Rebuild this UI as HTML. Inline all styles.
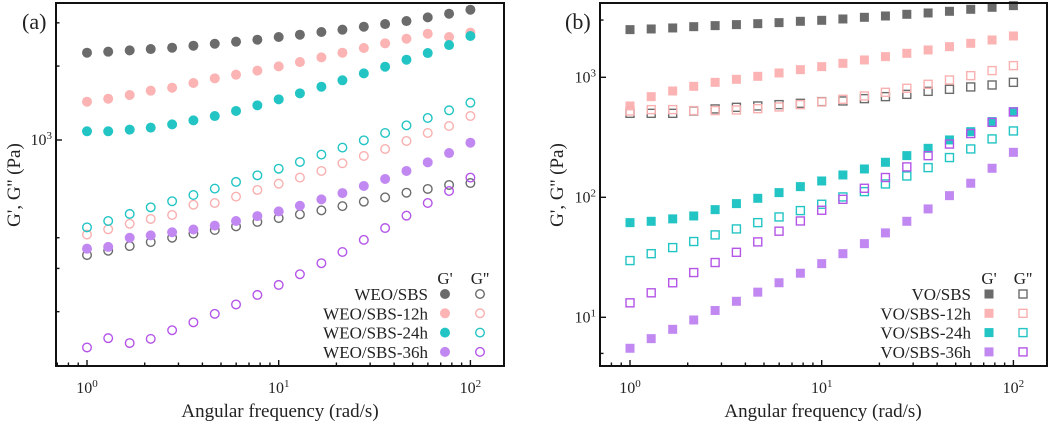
<!DOCTYPE html>
<html><head><meta charset="utf-8">
<style>
html,body{margin:0;padding:0;background:#fff;}
svg{display:block;font-family:"Liberation Serif",serif;}
</style></head>
<body>
<svg id="chart" width="1052" height="422" viewBox="0 0 1052 422" xmlns="http://www.w3.org/2000/svg"></svg>
<script>
// ---- shared x data ----
const freqs = [1,1.29,1.67,2.15,2.78,3.59,4.64,5.99,7.74,10,12.9,16.7,21.5,27.8,35.9,46.4,59.9,77.4,100];
// ---- panel (a) data (Pa) ----
const weoNames = ["WEO/SBS","WEO/SBS-12h","WEO/SBS-24h","WEO/SBS-36h"];
const weoGp0 = [2267,2289,2317,2346,2376,2421,2466,2514,2561,2626,2684,2752,2813,2893,2966,3050,3157,3268,3393];
const weoGpp0 = [340,354,370,384,400,416,430,445,464,481,498,517,538,561,584,610,632,656,668];
const weoGp12 = [1432,1473,1525,1588,1633,1706,1783,1845,1916,1994,2077,2170,2267,2369,2475,2585,2709,2626,2735];
const weoGpp12 = [412,433,456,477,495,545,554,588,626,664,703,748,804,861,919,991,1068,1140,1252];
const weoGp24 = [1085,1085,1102,1123,1158,1202,1252,1313,1384,1464,1549,1648,1750,1868,1988,2123,2260,2436,2651];
const weoGpp24 = [441,468,500,532,563,597,634,675,718,764,814,872,931,997,1068,1147,1229,1321,1419];
const weoGp36 = [361,367,400,409,421,432,448,468,490,512,540,573,608,650,694,748,811,885,975];
const weoGpp36 = [143,156,149,155,168,181,196,214,234,257,284,315,350,392,438,492,554,620,703];
// ---- panel (b) data (Pa) ----
const voNames = ["VO/SBS","VO/SBS-12h","VO/SBS-24h","VO/SBS-36h"];
const voGp0 = [2496,2528,2577,2642,2695,2748,2799,2855,2929,2985,3062,3162,3243,3350,3436,3548,3687,3831,3955];
const voGpp0 = [501,501,501,524,545,562,577,592,607,627,635,664,690,721,764,794,831,863,908];
const voGp12 = [577,690,769,841,908,962,1019,1087,1158,1227,1308,1395,1487,1585,1690,1801,1920,2047,2210];
const voGpp12 = [524,538,538,528,528,534,548,566,592,623,656,699,750,810,874,950,1032,1137,1251];
const voGp24 = [61.5,63.1,66.1,69.9,78.9,88.6,98.1,109.4,122.7,136.8,153.5,172.2,195.8,222.5,256,300.6,352.4,427.5,517.6];
const voGpp24 = [29.7,33.9,38.1,42.8,48.6,54.5,61.5,68.6,77.5,87.5,100.7,111.5,129.2,150.6,176.8,214.4,252.9,306.6,357.2];
const voGp36 = [5.52,6.64,7.94,9.5,11.4,13.6,16.2,19.4,23.3,28,33.9,41.1,50.5,63.1,80,103.2,131,174.6,237];
const voGpp36 = [13.2,16,19.4,23.6,28.6,34.8,42.5,52.2,63.5,78,96.2,118.9,146.2,179.2,222.3,277.8,339.8,421.4,514];

const colors = ["#6b6b6b","#fbb3b3","#22c4c4","#c288f2"];
const openColors = ["#6b6b6b","#f9b0b0","#22c4c4","#b455e8"];
const NS="http://www.w3.org/2000/svg";
const svg=document.getElementById('chart');
function mk(tag,attrs,parent){const e=document.createElementNS(NS,tag);for(const k in attrs)e.setAttribute(k,attrs[k]);(parent||svg).appendChild(e);return e;}

function panel(cfg){
  const g=mk('g',{});
  
  
  const xS=v=>cfg.x0+cfg.xDec*Math.log10(v);
  const yS=v=>cfg.y0-cfg.yDec*(Math.log10(v)-cfg.yRef);
  // markers
  const ser=cfg.series;
  ser.forEach((s,si)=>{
    const sg=mk('g',{},g);
    
    
    s.vals.forEach((v,i)=>{
      const cx=xS(freqs[i]),cy=yS(v);
      let m;
      if(cfg.shape==='circle'){
        m=s.filled?mk('circle',{cx,cy,r:5,fill:s.color},sg):mk('circle',{cx,cy,r:4.3,fill:'none',stroke:s.color,'stroke-width':1.4},sg);
      }else{
        m=s.filled?mk('rect',{x:cx-4.5,y:cy-4.5,width:9,height:9,fill:s.color},sg):mk('rect',{x:cx-4,y:cy-4,width:8,height:8,fill:'none',stroke:s.color,'stroke-width':1.4},sg);
      }
      
      
    });
  });
  // frame
  const fr=mk('rect',{x:cfg.left,y:cfg.top,width:cfg.right-cfg.left,height:cfg.bottom-cfg.top,fill:'none',stroke:'#111','stroke-width':2},g);
  
  
  // x ticks
  const xt=mk('g',{},g);
  
  
  for(let d=-1;d<=2;d++)for(let m=1;m<=9;m++){
    const v=m*Math.pow(10,d),x=xS(v);
    if(x<cfg.left+1||x>cfg.right-1)continue;
    const len=m===1?6:3.5;
    mk('line',{x1:x,x2:x,y1:cfg.bottom,y2:cfg.bottom-len,stroke:'#111','stroke-width':1.4},xt);
    if(m===1){
      const t=mk('text',{x:x,y:cfg.bottom+27,'text-anchor':'middle','font-size':16,fill:'#222'},xt);
      
      
      t.appendChild(document.createTextNode('10'));
      const s=mk('tspan',{dy:-6,'font-size':11},t);s.textContent=String(d);
    }
  }
  // y ticks
  const yt=mk('g',{},g);
  
  
  cfg.yMajor.forEach(v=>{
    const y=yS(v);
    mk('line',{x1:cfg.left,x2:cfg.left+6,y1:y,y2:y,stroke:'#111','stroke-width':1.4},yt);
    const t=mk('text',{x:cfg.left-4,y:y+5,'text-anchor':'end','font-size':16,fill:'#222'},yt);
    
    
    t.appendChild(document.createTextNode('10'));
    const s=mk('tspan',{dy:-6,'font-size':11},t);s.textContent=String(Math.round(Math.log10(v)));
  });
  cfg.yMinor.forEach(v=>{
    const y=yS(v);
    mk('line',{x1:cfg.left,x2:cfg.left+3.5,y1:y,y2:y,stroke:'#111','stroke-width':1.4},yt);
  });
  // titles
  const xl=mk('text',{x:cfg.xTitleX,y:417,'text-anchor':'middle','font-size':19,fill:'#222'},g);
  xl.textContent='Angular frequency (rad/s)';
  
  
  const yl=mk('text',{x:0,y:0,'text-anchor':'middle','font-size':19,fill:'#222',transform:`translate(${cfg.yTitleX},185) rotate(-90)`},g);
  yl.textContent="G', G'' (Pa)";
  
  
  const pl=mk('text',{x:cfg.panelX,y:29,'font-size':22,fill:'#222'},g);
  pl.textContent=cfg.panelLabel;
  
  
  // legend
  const lg=mk('g',{},g);
  
  
  const h1=mk('text',{x:cfg.legFill,y:284,'text-anchor':'middle','font-size':17,fill:'#222'},lg);h1.textContent="G'";
  
  
  const h2=mk('text',{x:cfg.legOpen,y:284,'text-anchor':'middle','font-size':17,fill:'#222'},lg);h2.textContent="G''";
  
  
  cfg.names.forEach((n,i)=>{
    const y=294+i*19.3;
    const t=mk('text',{x:cfg.legText,y:y+6,'text-anchor':'end','font-size':17,fill:'#222'},lg);
    t.textContent=n;
    
    
    if(cfg.shape==='circle'){
      mk('circle',{cx:cfg.legFill,cy:y,r:5,fill:colors[i]},lg);
      mk('circle',{cx:cfg.legOpen,cy:y,r:4.3,fill:'none',stroke:openColors[i],'stroke-width':1.4},lg);
    }else{
      mk('rect',{x:cfg.legFill-4.5,y:y-4.5,width:9,height:9,fill:colors[i]},lg);
      mk('rect',{x:cfg.legOpen-4,y:y-4,width:8,height:8,fill:'none',stroke:openColors[i],'stroke-width':1.4},lg);
    }
  });
}

panel({name:'panel-a',shape:'circle',left:56,right:504,top:3,bottom:366,x0:87,xDec:191.7,y0:140,yDec:245.6,yRef:3,
  yMajor:[1000],yMinor:[200,300,400,2000,3000],xTitleX:280,yTitleX:20,panelX:22,panelLabel:'(a)',
  legFill:445,legOpen:480,legText:428,names:weoNames,
  series:[
   {name:'weo-sbs-gp',vals:weoGp0,filled:true,color:colors[0]},
   {name:'weo-sbs-12h-gp',vals:weoGp12,filled:true,color:colors[1]},
   {name:'weo-sbs-24h-gp',vals:weoGp24,filled:true,color:colors[2]},
   {name:'weo-sbs-gpp',vals:weoGpp0,filled:false,color:openColors[0]},
   {name:'weo-sbs-12h-gpp',vals:weoGpp12,filled:false,color:openColors[1]},
   {name:'weo-sbs-24h-gpp',vals:weoGpp24,filled:false,color:openColors[2]},
   {name:'weo-sbs-36h-gp',vals:weoGp36,filled:true,color:colors[3]},
   {name:'weo-sbs-36h-gpp',vals:weoGpp36,filled:false,color:openColors[3]}]});

panel({name:'panel-b',shape:'square',left:600,right:1047,top:3,bottom:366,x0:630,xDec:191.7,y0:77.3,yDec:120,yRef:3,
  yMajor:[10,100,1000],yMinor:[5,3000],xTitleX:823,yTitleX:563,panelX:565,panelLabel:'(b)',
  legFill:989,legOpen:1023,legText:971,names:voNames,
  series:[
   {name:'vo-sbs-gp',vals:voGp0,filled:true,color:colors[0]},
   {name:'vo-sbs-gpp',vals:voGpp0,filled:false,color:openColors[0]},
   {name:'vo-sbs-12h-gp',vals:voGp12,filled:true,color:colors[1]},
   {name:'vo-sbs-12h-gpp',vals:voGpp12,filled:false,color:openColors[1]},
   {name:'vo-sbs-24h-gp',vals:voGp24,filled:true,color:colors[2]},
   {name:'vo-sbs-24h-gpp',vals:voGpp24,filled:false,color:openColors[2]},
   {name:'vo-sbs-36h-gp',vals:voGp36,filled:true,color:colors[3]},
   {name:'vo-sbs-36h-gpp',vals:voGpp36,filled:false,color:openColors[3]}]});
</script>
</body></html>
